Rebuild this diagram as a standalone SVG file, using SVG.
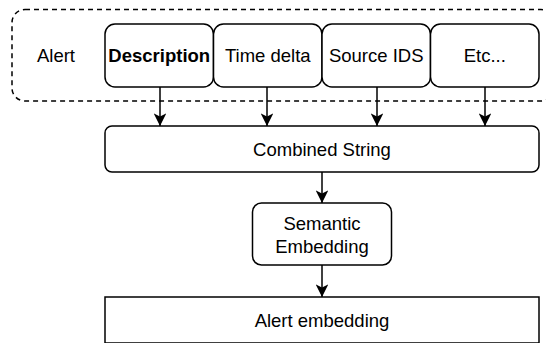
<svg xmlns="http://www.w3.org/2000/svg" width="546" height="343" viewBox="0 0 546 343">
<style>
.box{fill:#fff;stroke:#000;stroke-width:1.5}
.t{font-family:"Liberation Sans",Arial,sans-serif;font-size:18.5px;fill:#000;text-anchor:middle;dominant-baseline:central}
.c{stroke:#000;stroke-width:1.5;fill:none;marker-end:url(#ah)}
</style>
<defs>
<marker id="ah" viewBox="0 0 10 10" refX="10" refY="5" markerWidth="8.5" markerHeight="8.5" markerUnits="strokeWidth" orient="auto">
<path d="M0,0 L10,5 L0,10 L2.5,5 Z" fill="#000"/>
</marker>
</defs>
<g id="alert-group">
<rect x="12" y="9.5" width="542" height="91.5" rx="13" ry="13" fill="none" stroke="#000" stroke-width="1.5" stroke-dasharray="5 4"/>
<text class="t" x="56" y="55">Alert</text>
</g>
<g id="description">
<rect class="box" x="105" y="24" width="108.5" height="63" rx="10" ry="10"/>
<text class="t" x="159.25" y="55" font-weight="bold">Description</text>
</g>
<g id="time-delta">
<rect class="box" x="213.5" y="24" width="108.5" height="63" rx="10" ry="10"/>
<text class="t" x="267.75" y="55">Time delta</text>
</g>
<g id="source-ids">
<rect class="box" x="322" y="24" width="108.5" height="63" rx="10" ry="10"/>
<text class="t" x="376.25" y="55">Source IDS</text>
</g>
<g id="etc">
<rect class="box" x="430.5" y="24" width="108.5" height="63" rx="10" ry="10"/>
<text class="t" x="484.75" y="55">Etc...</text>
</g>
<g id="combined-string">
<rect class="box" x="105" y="126" width="434" height="46" rx="7" ry="7"/>
<text class="t" x="322" y="149">Combined String</text>
</g>
<g id="semantic-embedding">
<rect class="box" x="252.5" y="203" width="139" height="62" rx="9" ry="9"/>
<text class="t" x="322" y="223">Semantic</text>
<text class="t" x="322" y="246">Embedding</text>
</g>
<g id="alert-embedding">
<rect class="box" x="105" y="297" width="434" height="46"/>
<text class="t" x="322" y="320">Alert embedding</text>
</g>
<g id="connectors">
<line class="c" x1="160" y1="87" x2="160" y2="126"/>
<line class="c" x1="267" y1="87" x2="267" y2="126"/>
<line class="c" x1="377" y1="87" x2="377" y2="126"/>
<line class="c" x1="485" y1="87" x2="485" y2="126"/>
<line class="c" x1="322" y1="172" x2="322" y2="203"/>
<line class="c" x1="322" y1="265" x2="322" y2="297"/>
</g>
</svg>
